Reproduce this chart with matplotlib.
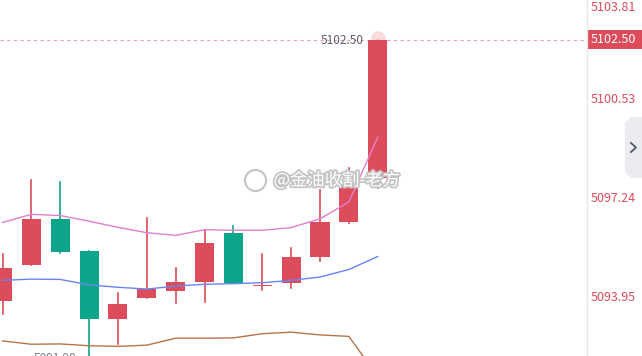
import numpy as np
import matplotlib.pyplot as plt
import matplotlib.patheffects as pe
from matplotlib.patches import Rectangle, Polygon

plt.rcParams['font.family'] = ['Noto Sans CJK SC', 'DejaVu Sans']

# Datos de las velas
abre = [5093.85, 5095.03, 5096.54, 5095.48, 5093.23, 5093.93, 5094.16,
        5094.46, 5096.08, 5094.32, 5094.42, 5095.28, 5096.45, 5097.92]
cierra = [5094.92, 5096.54, 5095.46, 5093.23, 5093.72, 5094.22, 5094.45,
          5095.75, 5094.42, 5094.38, 5095.28, 5096.44, 5097.67, 5102.50]
maximo = [5095.38, 5097.84, 5097.77, 5095.48, 5094.09, 5096.58, 5094.92,
          5096.18, 5096.31, 5095.41, 5095.58, 5097.51, 5098.24, 5102.50]
minimo = [5093.39, 5095.03, 5095.42, 5091.98, 5092.40, 5093.93, 5093.76,
          5093.80, 5094.42, 5094.21, 5094.26, 5095.15, 5096.42, 5097.57]

# Bandas
banda_sup = [5096.44, 5096.71, 5096.67, 5096.48, 5096.28, 5096.10, 5096.01,
             5096.20, 5096.18, 5096.18, 5096.27, 5096.56, 5097.12, 5099.27]
banda_med = [5094.52, 5094.56, 5094.55, 5094.37, 5094.29, 5094.23, 5094.33,
             5094.39, 5094.41, 5094.44, 5094.52, 5094.63, 5094.88, 5095.31]
banda_inf = [5092.51, 5092.40, 5092.41, 5092.35, 5092.33, 5092.37, 5092.60,
             5092.60, 5092.61, 5092.75, 5092.80, 5092.71, 5092.66, 5091.33]

ticks_y = [5103.81, 5100.53, 5097.24, 5093.95]
ultimo = 5102.50

rojo = '#dc4c5a'
verde = '#0ba68a'

fig = plt.figure(figsize=(6.42, 3.56), dpi=100)
ax = fig.add_axes([0, 0, 587 / 642, 1])
ax.set_xlim(-0.087, 20.25)
ax.set_ylim(5092.01, 5103.82)
ax.axis('off')

x = np.arange(len(abre))
for i in x:
    color = rojo if cierra[i] >= abre[i] else verde
    ax.plot([i, i], [minimo[i], maximo[i]], color=color, lw=1.2, zorder=2)
    bajo = min(abre[i], cierra[i])
    alto = max(abre[i], cierra[i])
    ax.add_patch(Rectangle((i - 0.33, bajo), 0.66, max(alto - bajo, 0.05),
                           color=color, lw=0, zorder=3))

ax.plot(x, banda_sup, color='#e07fd0', lw=1, zorder=4)
ax.plot(x, banda_med, color='#6a84f0', lw=1, zorder=4)
ax.plot(x, banda_inf, color='#b5744a', lw=1, zorder=4)

# Linea del ultimo precio
ax.axhline(ultimo, color='#f0a0aa', lw=0.8, ls=(0, (3, 3)), zorder=1)
ax.scatter([13], [ultimo + 0.05], s=110, color='#f7c5cb', alpha=0.6, zorder=2, lw=0)

ax.annotate('5102.50', xy=(13, ultimo), xytext=(-14, -1), textcoords='offset pixels',
            ha='right', va='center', fontsize=8.5, color='#5a5f6e', zorder=6)
ax.annotate('5091.98', xy=(3, minimo[3]), xytext=(-13, 5), textcoords='offset pixels',
            ha='right', va='top', fontsize=8.5, color='#7a7f8c', zorder=6,
            annotation_clip=False)

# Marca de agua
ax.text(271 / 28.86, 5097.84, '@金油收割-老方', fontsize=12.5, color='white',
        va='center', ha='left', zorder=7,
        path_effects=[pe.withStroke(linewidth=2.5, foreground='#c4c4c4')])
ax.scatter([252 / 28.86], [5097.84], s=230, marker='o', facecolor='white',
           edgecolor='#c4c4c4', lw=1.5, zorder=7)

# Eje derecho
fig.add_artist(plt.Line2D([587 / 642, 587 / 642], [0, 1], color='#e6e6e6', lw=1))
for t in ticks_y:
    yf = ax.transLimits.transform((0, t))[1]
    va = 'center'
    if yf > 0.97:
        yf, va = 1 - 1.0 / 356, 'top'
    fig.text(591 / 642, yf, f'{t:.2f}', color=rojo, fontsize=9, va=va, ha='left')

yf = ax.transLimits.transform((0, ultimo))[1]
fig.add_artist(Rectangle((587 / 642, yf - 9.5 / 356), 55 / 642, 19 / 356,
                         color=rojo, lw=0, transform=fig.transFigure))
fig.text(591 / 642, yf, '5102.50', color='white', fontsize=9, va='center', ha='left')

# Boton lateral
pts = [(625, 123), (631, 117), (642, 117), (642, 178), (631, 178), (625, 172)]
fig.add_artist(Polygon([(px / 642, 1 - py / 356) for px, py in pts], closed=True,
                       color='#ebebf0', lw=0, transform=fig.transFigure))
fig.add_artist(plt.Line2D([631 / 642, 636 / 642, 631 / 642],
                          [1 - 143 / 356, 1 - 147.5 / 356, 1 - 152 / 356],
                          color='#555a6a', lw=1.3))

fig.savefig('out.png', dpi=100, facecolor='white')
